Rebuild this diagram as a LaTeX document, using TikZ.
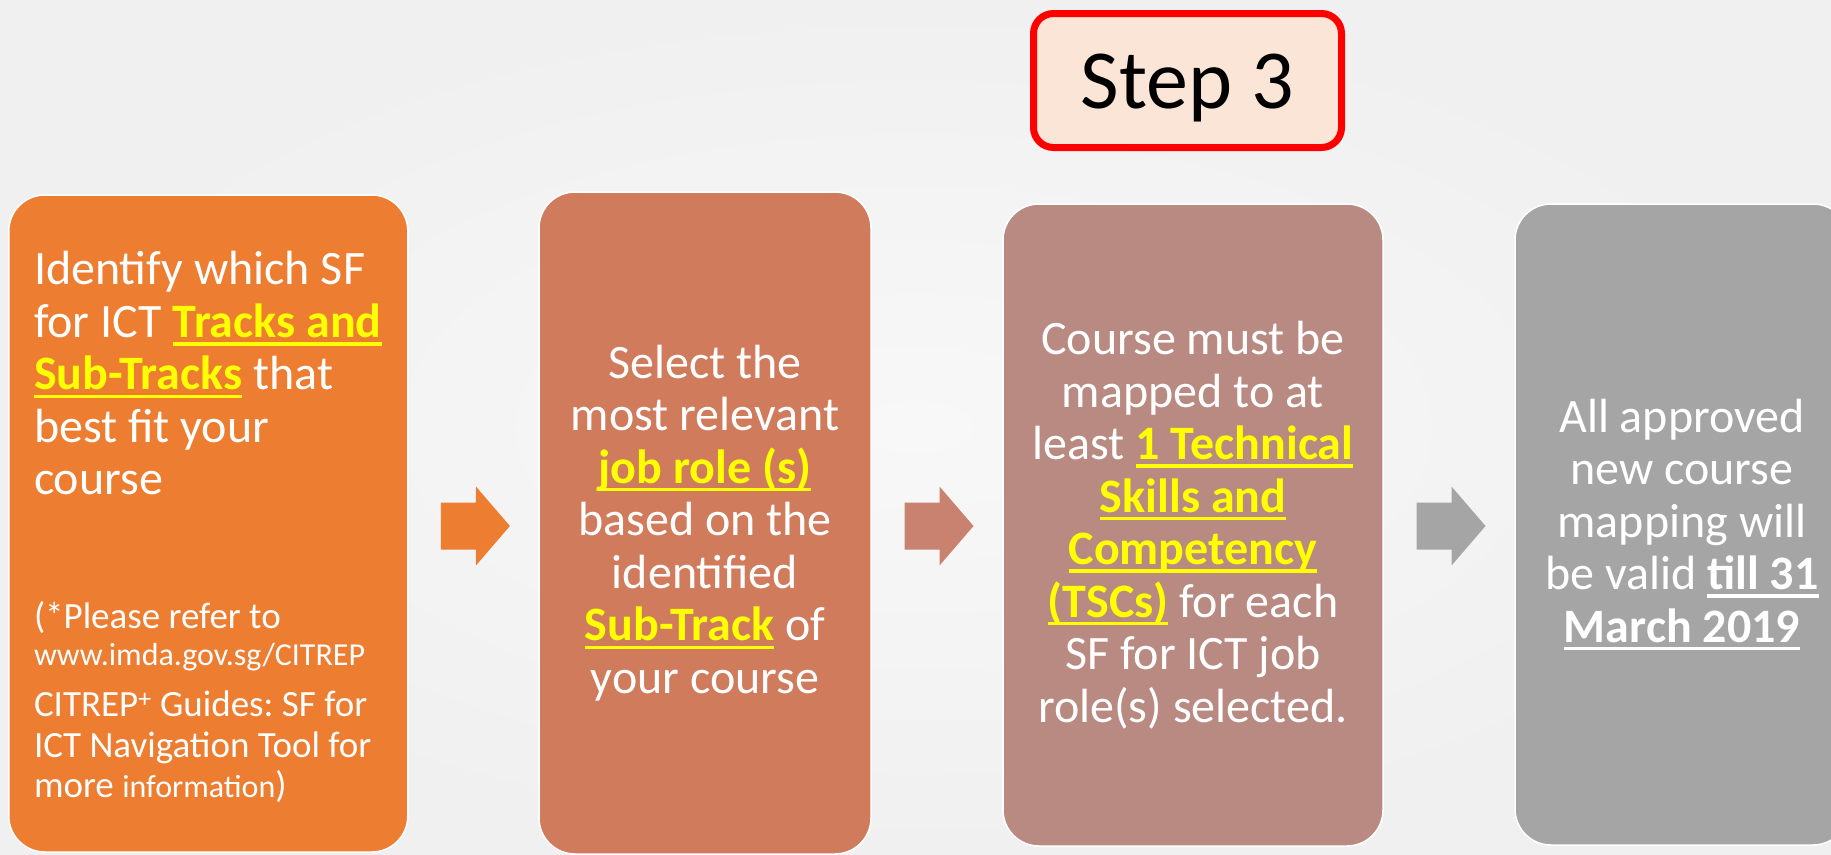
\documentclass[tikz,border=0pt]{standalone}
\usepackage{fontspec}
\setmainfont{Carlito}
\usetikzlibrary{calc}
\setlength\parindent{0pt}
\frenchspacing
\definecolor{bgin}{HTML}{F8F8F8}
\definecolor{bgout}{HTML}{F0F0F0}
\definecolor{boxone}{HTML}{ED7D31}
\definecolor{boxtwo}{HTML}{D17B5D}
\definecolor{boxthree}{HTML}{B98A82}
\definecolor{boxfour}{HTML}{A5A5A5}
\definecolor{arrtwo}{HTML}{C9826F}
\definecolor{stepfill}{HTML}{FBE5D6}
\definecolor{stepred}{HTML}{FF0000}
\definecolor{hlyellow}{HTML}{FFFF00}
\newcommand\ulbox[1]{\leavevmode\setbox0\hbox{#1}\rlap{\rule[-0.17em]{\wd0}{0.07em}}\box0}
\newcommand\hl[1]{\leavevmode{\color{hlyellow}\bfseries\ulbox{#1}}}
\newcommand\blockarrow[2]{\fill[#2] ($(#1)+(-34.5,-23.5)$) -- ++(35,0) -- ++(0,-16) -- ++(34,39.5) -- ++(-34,39.5) -- ++(0,-16) -- ++(-35,0) -- cycle;}

\begin{document}
\begin{tikzpicture}[x=1pt,y=-1pt,
    stagebox/.style={rectangle,rounded corners=36pt,draw=white,line width=1.5pt,inner sep=0pt,text=white,font=\fontsize{48}{52.5}\selectfont},
    stepbadge/.style={rectangle,rounded corners=20pt,draw=stepred,line width=7pt,fill=stepfill,inner sep=0pt,font=\fontsize{84}{90}\selectfont}]
    %%%%% START %%%%%
    \useasboundingbox (0,0) rectangle (1831,854);
    \shade[inner color=bgin,outer color=bgout] (0,0) rectangle (1831,854);

    \node[stepbadge,minimum width=308pt,minimum height=134pt,text height=72pt,text depth=16pt] (step) at (1187.5,80.5) {Step 3};

    \node[stagebox,fill=boxone,minimum width=399pt,minimum height=657pt,text width=376pt,align=flush left] (b1) at (208.3,523.5)
        {\leftskip=13.7pt\relax
         \rule{0pt}{41pt}Identify which SF\\ for ICT \hl{Tracks and}\\ \hl{Sub-Tracks} that\\ best fit your\\ course\par
         \vspace{96.5pt}
         {\fontsize{37}{37}\selectfont (*Please refer to\\ {\fontsize{32}{37}\selectfont www.imda.gov.sg/CITREP}\par}
         \vspace{11pt}
         {\fontsize{37}{40.5}\selectfont CITREP\textsuperscript{+} Guides: SF for\\ ICT Navigation Tool for\\ more {\fontsize{32}{40.5}\selectfont information})\par}};
    \node[stagebox,fill=boxtwo,minimum width=332pt,minimum height=662pt,text width=320pt,align=flush center] (b2) at (705,523)
        {Select the\\ most relevant\\ \hl{job role (s)}\\ based on the\\ identified\\ \hl{Sub-Track} of\\ your course};
    \node[stagebox,fill=boxthree,minimum width=380pt,minimum height=642pt,text width=350pt,align=flush center] (b3) at (1193,525)
        {Course must be\\ mapped to at\\ least \hl{1 Technical}\\ \hl{Skills and}\\ \hl{Competency}\\ \hl{(TSCs)} for each\\ SF for ICT job\\ role(s) selected.};
    \node[stagebox,fill=boxfour,minimum width=334pt,minimum height=641pt,text width=320pt,align=flush center] (b4) at (1682,524.5)
        {All approved\\ new course\\ mapping will\\ be valid {\bfseries\ulbox{till 31}}\\ {\bfseries\ulbox{March 2019}}};

    % arrows between the stages
    \coordinate (axis) at (0,526);
    \coordinate (a1) at ($(b1.east |- axis)!0.5!(b2.west |- axis)+(2,0)$);
    \coordinate (a2) at ($(b2.east |- axis)!0.5!(b3.west |- axis)+(2,0)$);
    \coordinate (a3) at ($(b3.east |- axis)!0.5!(b4.west |- axis)+(2,0)$);
    \blockarrow{a1}{boxone}
    \blockarrow{a2}{arrtwo}
    \blockarrow{a3}{boxfour}
    %%%%% END %%%%%
\end{tikzpicture}
\end{document}
